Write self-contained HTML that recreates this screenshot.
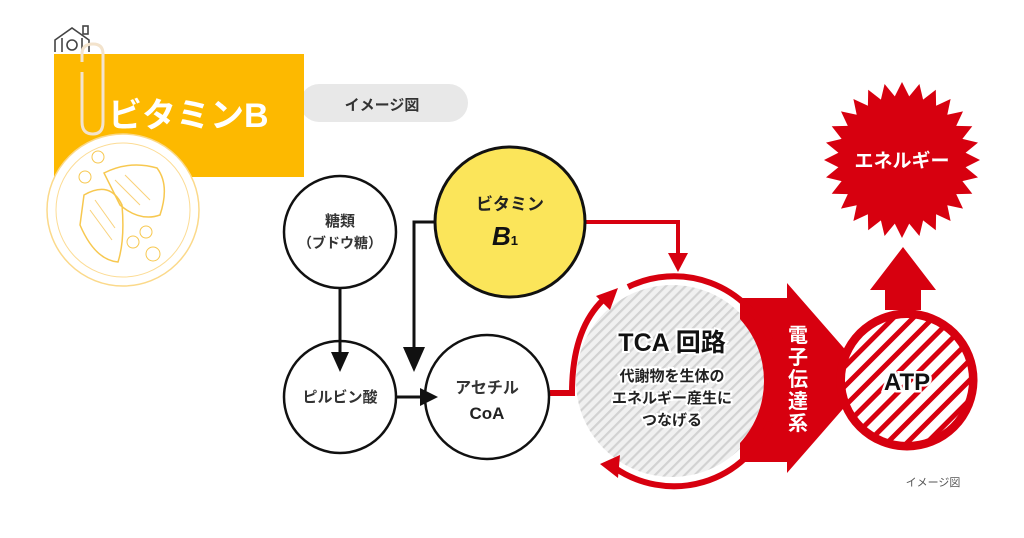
<!DOCTYPE html>
<html><head><meta charset="utf-8"><style>
html,body{margin:0;padding:0;background:#fff;}
svg{display:block;}
text{font-family:"Liberation Sans","Noto Sans CJK JP",sans-serif;}
</style></head><body>
<svg width="1024" height="538" viewBox="0 0 1024 538" xmlns="http://www.w3.org/2000/svg">
<defs>
<pattern id="gh" width="7" height="7" patternUnits="userSpaceOnUse" patternTransform="rotate(45)">
<rect width="7" height="7" fill="#f0f0f0"/><rect width="2.2" height="7" fill="#d2d2d2"/>
</pattern>
<pattern id="rh" width="14" height="14" patternUnits="userSpaceOnUse" patternTransform="rotate(-45)">
<rect width="14" height="14" fill="#fff"/><rect width="14" height="5" fill="#d7000f"/>
</pattern>
<clipPath id="atpc"><circle cx="907" cy="380" r="62"/></clipPath>
</defs>

<!-- header -->
<rect x="300" y="84" width="168" height="38" rx="19" fill="#e8e8e8"/>
<text x="382" y="110" font-size="15" font-weight="bold" fill="#333" text-anchor="middle">イメージ図</text>
<rect x="54" y="54" width="250" height="123" fill="#fdb900"/>
<text x="108" y="127" font-size="34" font-weight="bold" fill="#fff">ビタミンB</text>

<!-- house icon -->
<g stroke="#444" stroke-width="1.6" fill="none">
<path d="M55 52 V40 L72 28 L89 40 V52"/><rect x="83" y="26" width="5" height="8"/>
<circle cx="72" cy="45" r="5"/><line x1="62" y1="38" x2="62" y2="52"/><line x1="82" y1="38" x2="82" y2="52"/>
</g>
<!-- paperclip -->
<path d="M82 72 V122 Q82 134 93 134 Q103 134 103 122 V54 Q103 44 93 44 Q82 44 82 54 V62" fill="none" stroke="#f3e3cc" stroke-width="3"/>

<!-- plate -->
<circle cx="123" cy="210" r="76" fill="#fff" stroke="#fbd98a" stroke-width="1.5"/>
<circle cx="123" cy="210" r="67" fill="none" stroke="#fcdc95" stroke-width="1"/>
<path d="M104 173 Q130 160 157 168 Q170 185 160 215 Q140 222 120 205 Z" fill="none" stroke="#f7c850" stroke-width="1.5"/>
<path d="M84 195 Q110 180 122 205 Q125 240 118 262 Q95 260 80 225 Z" fill="none" stroke="#f7c850" stroke-width="1.5"/>
<g stroke="#f9d27a" stroke-width="1">
<line x1="115" y1="180" x2="140" y2="205"/><line x1="125" y1="175" x2="150" y2="200"/><line x1="90" y1="210" x2="112" y2="240"/><line x1="95" y1="200" x2="115" y2="228"/>
</g>
<circle cx="98" cy="157" r="6" fill="none" stroke="#f7c850"/><circle cx="146" cy="232" r="6" fill="none" stroke="#f7c850"/><circle cx="133" cy="242" r="6" fill="none" stroke="#f7c850"/><circle cx="153" cy="254" r="7" fill="none" stroke="#f7c850"/><circle cx="85" cy="177" r="6" fill="none" stroke="#f7c850"/>

<!-- red connector from B1 -->
<polyline points="585,222 678,222 678,258" fill="none" stroke="#d7000f" stroke-width="4"/>
<polygon points="668,253 688,253 678,272" fill="#d7000f"/>

<!-- TCA circle -->
<circle cx="672" cy="381" r="96" fill="url(#gh)"/>
<!-- big arrow -->
<polygon points="740,298 787,298 787,283 870,378 787,473 787,462 740,462" fill="#d7000f"/>
<circle cx="672" cy="381" r="92" fill="url(#gh)"/>
<!-- red ring arcs -->
<g fill="none" stroke="#d7000f" stroke-width="6">
<path d="M628 287 A104 104 0 0 1 770 340"/>
<path d="M770 422 A104 104 0 0 1 615 468"/>
<path d="M550 393 L572 393 Q572 330 603 300"/>
</g>
<polygon points="596,296 618,288 610,310" fill="#d7000f"/>
<polygon points="600,464 620,455 618,478" fill="#d7000f"/>
<text font-size="20" font-weight="bold" fill="#fff" text-anchor="middle">
<tspan x="798" y="342">電</tspan><tspan x="798" y="364">子</tspan><tspan x="798" y="386">伝</tspan><tspan x="798" y="408">達</tspan><tspan x="798" y="430">系</tspan></text>

<!-- TCA text -->
<text x="672" y="351" font-size="25" font-weight="bold" fill="#111" text-anchor="middle" stroke="#fff" stroke-width="4" paint-order="stroke">TCA 回路</text>
<g font-size="15" font-weight="bold" fill="#222" text-anchor="middle" stroke="#fff" stroke-width="4" paint-order="stroke">
<text x="672" y="381">代謝物を生体の</text>
<text x="672" y="403">エネルギー産生に</text>
<text x="672" y="425">つなげる</text>
</g>

<!-- ATP -->
<polygon points="885,310 885,290 870,290 903,247 936,290 921,290 921,310" fill="#d7000f"/>
<circle cx="907" cy="380" r="66" fill="#fff" stroke="#d7000f" stroke-width="9"/>
<rect x="840" y="315" width="135" height="135" fill="url(#rh)" clip-path="url(#atpc)"/>
<text x="907" y="390" font-size="24" font-weight="bold" fill="#111" text-anchor="middle" stroke="#fff" stroke-width="5" paint-order="stroke">ATP</text>

<!-- starburst -->
<polygon id="star" fill="#d7000f" points=""/>
<text x="902" y="167" font-size="19" font-weight="bold" fill="#fff" text-anchor="middle">エネルギー</text>

<text x="933" y="486" font-size="11" fill="#555" text-anchor="middle">イメージ図</text>

<!-- circles -->
<circle cx="340" cy="232" r="56" fill="#fff" stroke="#111" stroke-width="2.5"/>
<text x="340" y="226" font-size="15" font-weight="bold" fill="#333" text-anchor="middle">糖類</text>
<text x="340" y="248" font-size="14" font-weight="bold" fill="#333" text-anchor="middle">（ブドウ糖）</text>
<circle cx="510" cy="222" r="75" fill="#fbe55a" stroke="#111" stroke-width="3"/>
<text x="510" y="210" font-size="17" font-weight="bold" fill="#222" text-anchor="middle">ビタミン</text>
<text x="505" y="245" font-size="26" font-weight="bold" font-style="italic" fill="#111" text-anchor="middle">B<tspan font-size="13" font-style="normal">1</tspan></text>
<circle cx="340" cy="397" r="56" fill="#fff" stroke="#111" stroke-width="2.5"/>
<text x="340" y="402" font-size="15" font-weight="bold" fill="#333" text-anchor="middle">ピルビン酸</text>
<circle cx="487" cy="397" r="62" fill="#fff" stroke="#111" stroke-width="2.5"/>
<text x="487" y="393" font-size="16" font-weight="bold" fill="#333" text-anchor="middle">アセチル</text>
<text x="487" y="419" font-size="17" font-weight="bold" fill="#222" text-anchor="middle">CoA</text>

<!-- black connectors (on top) -->
<g stroke="#111" stroke-width="3" fill="none">
<line x1="340" y1="288" x2="340" y2="355"/>
<polyline points="436,222 414,222 414,355"/>
<line x1="397" y1="397" x2="425" y2="397"/>
</g>
<polygon points="331,352 349,352 340,372" fill="#111"/>
<polygon points="403,347 425,347 414,372" fill="#111"/>
<polygon points="420,388 420,406 438,397" fill="#111"/>
</svg>
<script>
(function(){var cx=902,cy=160,n=28,ro=78,ri=64,p=[];for(var i=0;i<2*n;i++){var r=i%2?ri:ro,a=Math.PI*i/n-Math.PI/2;p.push((cx+r*Math.cos(a)).toFixed(1)+","+(cy+r*Math.sin(a)).toFixed(1));}document.getElementById("star").setAttribute("points",p.join(" "));})();
</script>
</body></html>
